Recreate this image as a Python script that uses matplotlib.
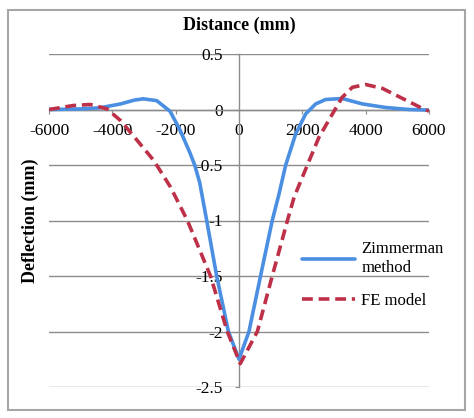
#!/usr/bin/env python3
import matplotlib
matplotlib.use("Agg")
import matplotlib.pyplot as plt
from matplotlib.patches import Rectangle

# ---------------------------------------------------------
# data
# ---------------------------------------------------------
zim_x = [-6000, -5000, -4400, -3740, -3300, -3020, -2600, -2180, -1870, -1550,
         -1400, -1240, -1020, -705, -335, 0, 315, 680, 1050, 1265,
         1475, 1790, 2105, 2420, 2735, 3260, 3900, 4630, 5370, 6000]
zim_y = [0.0, 0.005, 0.015, 0.05, 0.085, 0.096, 0.08, -0.015, -0.18, -0.39,
         -0.5, -0.66, -1.0, -1.5, -2.0, -2.25, -2.0, -1.5, -1.0, -0.76,
         -0.5, -0.22, -0.04, 0.05, 0.09, 0.099, 0.05, 0.018, 0.0, -0.005]

fe_x = [-6000, -5230, -4700, -4170, -3740, -3210, -2690, -2160, -1630, -900,
        -370, 40, 580, 1050, 1530, 1740, 2160, 2525, 2950, 3260,
        3580, 4000, 4530, 5160, 5790, 6000]
fe_y = [0.0, 0.036, 0.045, 0.006, -0.1, -0.28, -0.46, -0.7, -1.0, -1.5,
        -2.0, -2.29, -2.0, -1.5, -1.0, -0.79, -0.5, -0.25, -0.04, 0.11,
        0.2, 0.225, 0.19, 0.1, 0.01, -0.015]

x_ticks = [-6000, -4000, -2000, 0, 2000, 4000, 6000]
y_ticks = [0.5, 0, -0.5, -1, -1.5, -2, -2.5]
y_labels = ["0.5", "0", "-0.5", "-1", "-1.5", "-2", "-2.5"]

GRID = "#8c8c8c"
BLUE = "#4a8fe2"
RED = "#be3048"

plt.rcParams["font.family"] = ["Liberation Serif", "DejaVu Serif"]
plt.rcParams["font.size"] = 12

fig = plt.figure(figsize=(4.74, 4.18), dpi=100)
ax = fig.add_axes([49 / 474, 31 / 418, 380 / 474, 333 / 418])

ax.plot(zim_x, zim_y, color=BLUE, lw=2.6, label="Zimmerman\nmethod",
        solid_joinstyle="round", solid_capstyle="round", zorder=3)
ax.plot(fe_x, fe_y, color=RED, lw=2.6, ls=(0, (3, 1.6)), label="FE model",
        zorder=3)

ax.set_xlim(-6000, 6000)
ax.set_ylim(-2.5, 0.5)
ax.set_xticks(x_ticks)
ax.set_yticks(y_ticks)
ax.set_xticklabels([str(v) for v in x_ticks])
ax.set_yticklabels(y_labels)

for s in ["top", "right"]:
    ax.spines[s].set_visible(False)
ax.spines["left"].set_position(("data", 0))
ax.spines["bottom"].set_position(("data", 0))
for s in ["left", "bottom"]:
    ax.spines[s].set_color(GRID)
    ax.spines[s].set_linewidth(1.0)

ax.grid(axis="y", color=GRID, lw=1.0)
ax.tick_params(axis="x", direction="out", length=3, color=GRID, pad=7,
               labelsize=12.5)
ax.tick_params(axis="y", direction="out", length=3, color=GRID, pad=8.5,
               labelsize=12.5)

fig.text(239 / 474, 1 - 25 / 418, "Distance (mm)", ha="center", va="center",
         fontsize=13, fontweight="bold")
fig.text(30 / 474, 1 - 221 / 418, "Deflection (mm)", ha="center", va="center",
         rotation=90, fontsize=13, fontweight="bold")

ax.legend(loc="center left", bbox_to_anchor=(302 / 474, 1 - 275 / 418),
          bbox_transform=fig.transFigure, frameon=False, borderpad=0,
          borderaxespad=0, handlelength=3.2, handletextpad=0.35,
          labelspacing=1.0, fontsize=12)

# outer chart border
fig.patches.append(Rectangle((8 / 474, 1 - 410 / 418), 457 / 474, 400 / 418,
                             transform=fig.transFigure, fill=False,
                             edgecolor="#a6a6a6", lw=1.5))

fig.savefig("out.png", dpi=100)
